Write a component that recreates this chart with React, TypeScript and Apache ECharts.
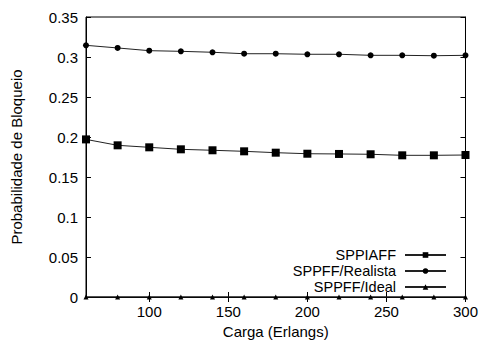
import React, { useEffect, useRef } from "react";
import * as echarts from "echarts";

const cargas = [60, 80, 100, 120, 140, 160, 180, 200, 220, 240, 260, 280, 300];
const sppiaff = [0.197, 0.1896, 0.1871, 0.1846, 0.1834, 0.1821, 0.1804, 0.1791, 0.1788, 0.1784, 0.1771, 0.1771, 0.1775];
const realista = [0.3146, 0.3113, 0.3079, 0.3071, 0.3059, 0.3041, 0.3041, 0.3034, 0.3034, 0.3021, 0.3021, 0.3016, 0.3021];
const ideal = [0, 0, 0, 0, 0, 0, 0, 0, 0, 0, 0, 0, 0];
const xTicks = [100, 150, 200, 250, 300];
const seriesNames = ["SPPIAFF", "SPPFF/Realista", "SPPFF/Ideal"];

const FONT = "Liberation Sans, Arial, sans-serif";
const FS = 15;

export default function App() {
  const ref = useRef<HTMLDivElement>(null);
  useEffect(() => {
    const chart = echarts.init(ref.current!, null, { renderer: "svg" });
    const pair = (ys: number[]) => cargas.map((x, i) => [x, ys[i]]);
    const axisLineStyle = { color: "#000", width: 1 };
    const tickCommon = { show: true, inside: true, length: 5, lineStyle: { color: "#000", width: 1 } };
    const lineSeries = (name: string, ys: number[], symbol: string, size: number) => ({
      name,
      type: "line",
      data: pair(ys),
      symbol,
      symbolSize: size,
      lineStyle: { color: "#222", width: 1 },
      itemStyle: { color: "#000" },
      xAxisIndex: 0,
      yAxisIndex: 0,
      z: 3,
    });
    chart.setOption({
      animation: false,
      grid: { left: 86, right: 15, top: 17, bottom: 48, show: true, borderColor: "#000", borderWidth: 1 },
      legend: {
        orient: "vertical",
        align: "right",
        right: 29,
        top: 242,
        itemWidth: 41,
        itemHeight: 7,
        itemGap: 0,
        textStyle: { fontFamily: FONT, fontSize: 14.5, lineHeight: 16, color: "#000", padding: [0, 4, 0, 0] },
        data: seriesNames,
      },
      xAxis: [
        {
          type: "value",
          min: 60,
          max: 300,
          name: "Carga (Erlangs)",
          nameLocation: "middle",
          nameGap: 27,
          nameTextStyle: { fontFamily: FONT, fontSize: FS, color: "#000" },
          axisLine: { lineStyle: axisLineStyle },
          axisTick: { ...tickCommon, customValues: xTicks },
          axisLabel: { customValues: xTicks, fontFamily: FONT, fontSize: FS, color: "#000", margin: 7 },
          splitLine: { show: false },
        },
        {
          type: "value",
          min: 60,
          max: 300,
          position: "top",
          axisLine: { lineStyle: axisLineStyle },
          axisTick: { ...tickCommon, customValues: xTicks },
          axisLabel: { show: false, customValues: xTicks },
          splitLine: { show: false },
        },
      ],
      yAxis: [
        {
          type: "value",
          min: 0,
          max: 0.35,
          interval: 0.05,
          name: "Probabilidade de Bloqueio",
          nameLocation: "middle",
          nameGap: 62,
          nameTextStyle: { fontFamily: FONT, fontSize: FS, color: "#000" },
          axisLine: { lineStyle: axisLineStyle },
          axisTick: tickCommon,
          axisLabel: {
            fontFamily: FONT,
            fontSize: FS,
            color: "#000",
            margin: 8,
            formatter: (v: number) => String(parseFloat(v.toFixed(2))),
          },
          splitLine: { show: false },
        },
        {
          type: "value",
          min: 0,
          max: 0.35,
          interval: 0.05,
          position: "right",
          axisLine: { lineStyle: axisLineStyle },
          axisTick: tickCommon,
          axisLabel: { show: false },
          splitLine: { show: false },
        },
      ],
      series: [
        lineSeries(seriesNames[0], sppiaff, "rect", 8),
        lineSeries(seriesNames[1], realista, "circle", 6),
        lineSeries(seriesNames[2], ideal, "triangle", 5),
      ],
    });
    return () => chart.dispose();
  }, []);
  return <div ref={ref} style={{ width: 481, height: 345, position: "absolute", left: 0, top: 0, background: "#fff" }} />;
}
